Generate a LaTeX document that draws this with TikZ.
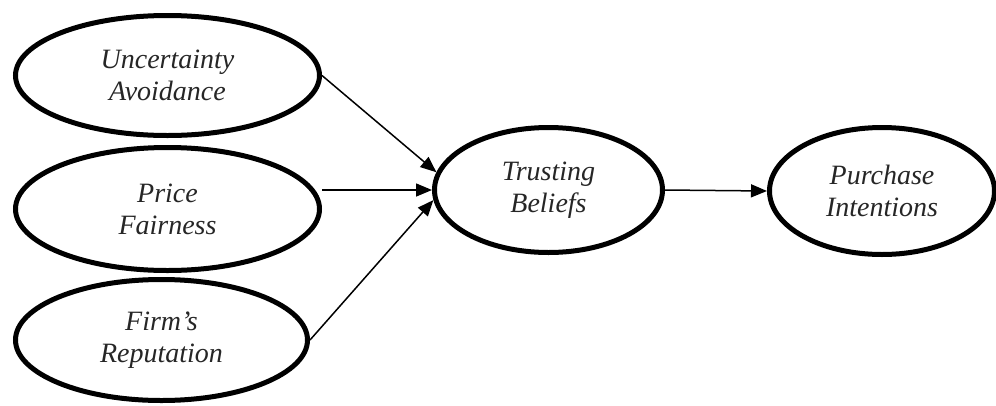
\documentclass[tikz,border=0pt]{standalone}
\usepackage{fontspec}
\setmainfont{Liberation Serif}
\usetikzlibrary{shapes.geometric, arrows.meta, positioning}
\tikzset{
  lvar/.style={ellipse, draw=black, line width=5pt, inner sep=0pt, align=center,
               text=black!85, font=\fontsize{28}{32}\selectfont\itshape},
  larr/.style={-{Triangle[length=16pt, width=13pt]}, line width=1.5pt, color=black},
}
\begin{document}
\begin{tikzpicture}[x=1pt, y=-1pt]
  \useasboundingbox (0,0) rectangle (996,405);
  \node[lvar, minimum width=304pt, minimum height=120pt] (ua) at (167.5,75.5) {Uncertainty\\Avoidance};
  \node[lvar, minimum width=304pt, minimum height=123pt, below=7pt of ua] (pf) {Price\\Fairness};
  \node[lvar, minimum width=292pt, minimum height=121pt, below=4pt of pf, xshift=-6pt] (fr) {Firm’s\\Reputation};
  \node[lvar, minimum width=228pt, minimum height=125pt, right=110pt of pf, yshift=19pt] (tb) {Trusting\\Beliefs};
  \node[lvar, minimum width=225pt, minimum height=127pt, right=102pt of tb, yshift=-1pt] (pi) {Purchase\\Intentions};
  \draw[larr] (ua.east) -- (tb.171);
  \draw[larr] (pf.east |- tb.west) -- (tb.west);
  \draw[larr] (fr.east) -- (tb.185);
  \draw[larr] (tb.east) -- (pi.west);
\end{tikzpicture}
\end{document}
